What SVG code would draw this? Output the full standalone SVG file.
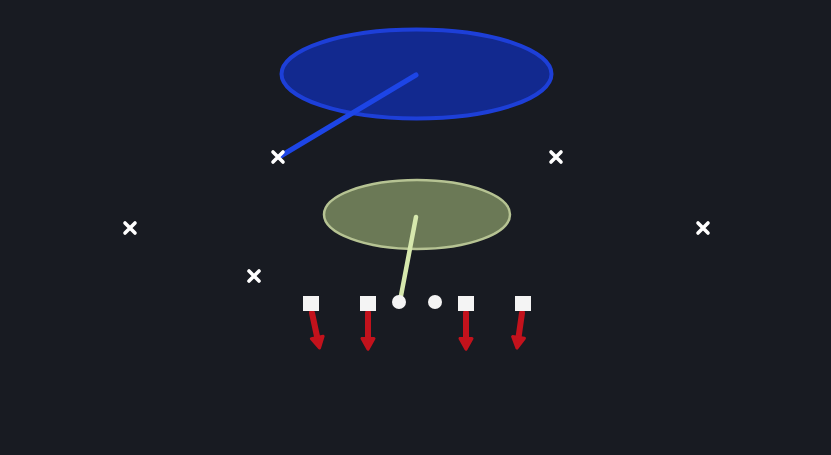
<svg xmlns="http://www.w3.org/2000/svg" width="831" height="455" viewBox="0 0 831 455">
<style>
.x{stroke:#fff;stroke-width:3.6;stroke-linecap:round}
.sq{fill:#f4f4f4}
.dot{fill:#f4f4f4}
.run{stroke:#c3121c;stroke-width:6;fill:none;stroke-linecap:round}
</style>
<defs>
<marker id="ah" markerWidth="3" markerHeight="3" refX="0.6" refY="1.1" orient="auto" markerUnits="strokeWidth" overflow="visible">
<path d="M0,0.1 L1.8,1.1 L0,2.1 Z" fill="#c3121c" stroke="#c3121c" stroke-width="0.5" stroke-linejoin="round"/>
</marker>
</defs>
<rect width="831" height="455" fill="#181b22"/>
<g id="zone-deep">
<ellipse cx="416.5" cy="74" rx="135" ry="44.5" fill="#12298f" stroke="#1d3fd8" stroke-width="4"/>
</g>
<g id="zone-short">
<ellipse cx="417" cy="214.5" rx="93" ry="34.5" fill="#6b7956" stroke="#b6c393" stroke-width="2.5"/>
</g>
<g id="connectors">
<line x1="416" y1="75" x2="279" y2="157" stroke="#1d45e6" stroke-width="5" stroke-linecap="round"/>
<line x1="416" y1="217" x2="400" y2="301" stroke="#d6e8ad" stroke-width="4.5" stroke-linecap="round"/>
<path class="run" d="M312,313 L318,341" marker-end="url(#ah)"/>
<path class="run" d="M368,313 L368,342" marker-end="url(#ah)"/>
<path class="run" d="M466,313 L466,342" marker-end="url(#ah)"/>
<path class="run" d="M522,313 L518,341" marker-end="url(#ah)"/>
</g>
<g id="d1"><path class="x" d="M273,152 L283,162 M283,152 L273,162"/></g>
<g id="d2"><path class="x" d="M551,152 L561,162 M561,152 L551,162"/></g>
<g id="d3"><path class="x" d="M125,223 L135,233 M135,223 L125,233"/></g>
<g id="d4"><path class="x" d="M698,223 L708,233 M708,223 L698,233"/></g>
<g id="d5"><path class="x" d="M249,271 L259,281 M259,271 L249,281"/></g>
<g id="o1"><rect class="sq" x="303" y="296" width="16" height="15"/></g>
<g id="o2"><rect class="sq" x="360" y="296" width="16" height="15"/></g>
<g id="o3"><circle class="dot" cx="399" cy="302" r="7"/></g>
<g id="o4"><circle class="dot" cx="435" cy="302" r="7"/></g>
<g id="o5"><rect class="sq" x="458" y="296" width="16" height="15"/></g>
<g id="o6"><rect class="sq" x="515" y="296" width="16" height="15"/></g>
</svg>
